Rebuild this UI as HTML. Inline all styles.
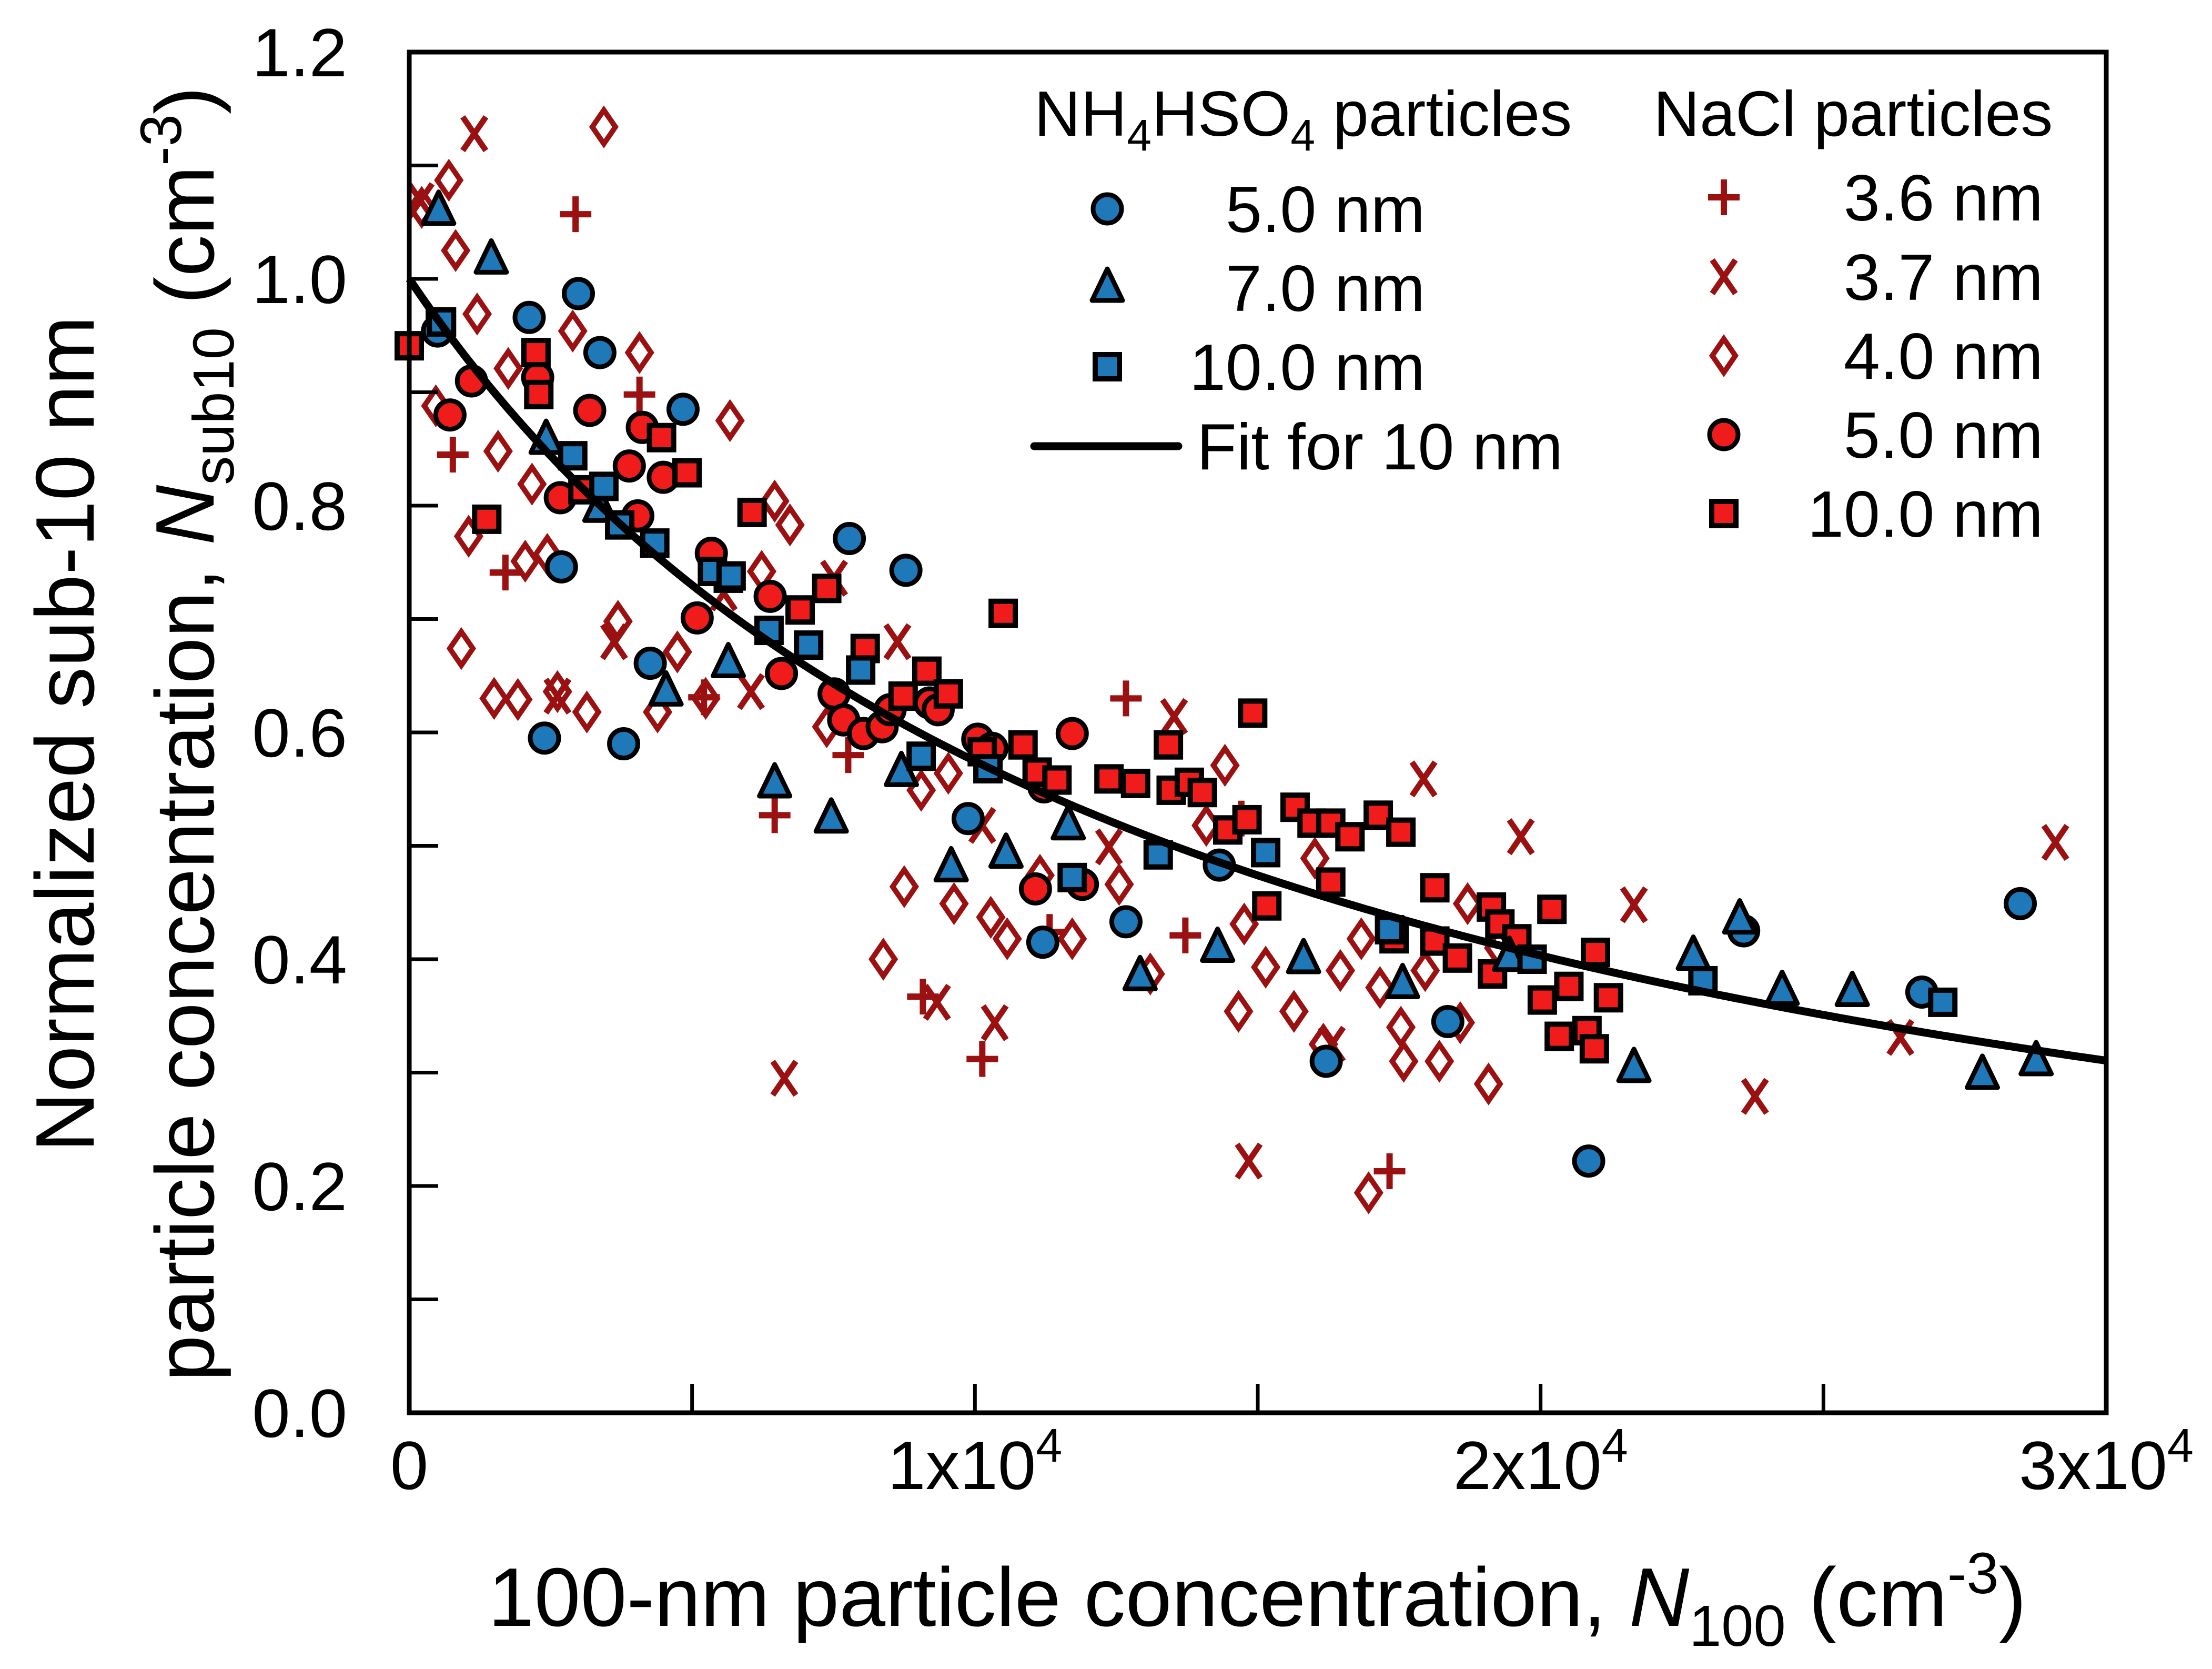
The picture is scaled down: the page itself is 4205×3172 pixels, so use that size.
<!DOCTYPE html>
<html><head><meta charset="utf-8"><style>
html,body{margin:0;padding:0;background:#fff;}
svg{display:block;font-family:"Liberation Sans",Arial,sans-serif;}
</style></head><body>
<svg id="chart" width="4205" height="3172" viewBox="0 0 4205 3172" xmlns="http://www.w3.org/2000/svg">
<rect width="4205" height="3172" fill="#fff"/>
<g id="marks"></g>
<g id="axes"></g>
<text x="2390" y="3090" font-size="158" text-anchor="middle">100-nm particle concentration, <tspan font-style="italic">N</tspan><tspan font-size="110" dy="38">100</tspan><tspan dy="-38"> (cm</tspan><tspan font-size="110" dy="-62">-3</tspan><tspan dy="62">)</tspan></text>
<g transform="translate(178,1395) rotate(-90)">
<text x="0" y="0" font-size="158" text-anchor="middle">Normalized sub-10 nm</text>
<text x="0" y="228" font-size="158" text-anchor="middle">particle concentration, <tspan font-style="italic">N</tspan><tspan font-size="110" dy="38">sub10</tspan><tspan dy="-38"> (cm</tspan><tspan font-size="110" dy="-62">-3</tspan><tspan dy="62">)</tspan></text>
</g>
<g id="legend"></g>
</svg>
<script>
const NS="http://www.w3.org/2000/svg";
const blueCircleX=[500,2120,2990,3370,4840,2690,2390,3790,4260,7780,8780,9880,11200,12670,14320,16210,18360,20850,23590,26740,28480];
const blueCircleY=[0.954,0.966,0.987,0.935,0.885,0.746,0.595,0.590,0.661,0.771,0.743,0.524,0.415,0.433,0.483,0.310,0.345,0.222,0.425,0.371,0.449];
const blueTriX=[520,1450,2420,3370,4540,5640,6460,7460,8700,9580,10550,11650,12920,14290,15810,17560,19450,21650,22700,23520,24270,25510,27810,28760];
const blueTriY=[1.06,1.017,0.858,0.798,0.636,0.661,0.555,0.524,0.565,0.481,0.493,0.518,0.385,0.410,0.400,0.378,0.402,0.304,0.403,0.435,0.372,0.371,0.298,0.310];
const blueSqX=[570,2890,3440,3720,4340,5360,5690,6360,7060,7980,9050,10230,11720,13240,15140,17330,19850,22870,27110];
const blueSqY=[0.962,0.844,0.817,0.783,0.767,0.742,0.738,0.690,0.677,0.655,0.579,0.568,0.472,0.492,0.494,0.426,0.400,0.381,0.362];
const redCircleX=[1100,720,2270,3190,2670,3890,4120,4490,4040,5340,5090,6580,6380,7510,7680,8030,8360,8500,9200,9350,10050,10300,11070,11220,11720,11900];
const redCircleY=[0.910,0.880,0.913,0.884,0.807,0.835,0.869,0.825,0.791,0.758,0.701,0.652,0.720,0.634,0.611,0.599,0.605,0.620,0.626,0.620,0.594,0.586,0.462,0.552,0.599,0.466];
const redSqX=[0,550,1370,2240,2290,3070,4460,4910,5640,6060,6910,7380,8060,8730,9150,9530,10130,10500,10850,11100,11450,12370,12840,13420,13470,13790,14020,14470,14810,14910,15160,15660,15960,16290,16290,16630,17130,17530,17410,18130,18130,18530,19130,19280,19580,20030,20200,20330,20500,20820,20970,21200,20950,19150];
const redSqY=[0.941,0.962,0.788,0.935,0.898,0.814,0.860,0.829,0.736,0.794,0.708,0.727,0.674,0.632,0.654,0.634,0.583,0.705,0.589,0.565,0.558,0.559,0.555,0.589,0.549,0.556,0.547,0.514,0.523,0.617,0.447,0.534,0.520,0.520,0.468,0.508,0.527,0.512,0.418,0.463,0.416,0.401,0.446,0.431,0.418,0.364,0.444,0.332,0.376,0.337,0.406,0.366,0.321,0.387];
const plusX=[2940,4070,770,1700,5210,6460,7760,9080,10130,11320,12670,13720,14710,17330];
const plusY=[1.057,0.898,0.845,0.741,0.631,0.527,0.580,0.367,0.312,0.424,0.630,0.421,0.524,0.213];
const crossX=[200,1150,2620,3620,5560,6040,6630,7510,8630,9330,10130,10350,12370,13520,14840,16310,17930,19650,21650,23790,26360,29100];
const crossY=[1.069,1.128,0.632,0.680,0.723,0.636,0.295,0.736,0.680,0.362,0.518,0.344,0.499,0.614,0.222,0.325,0.559,0.508,0.448,0.279,0.331,0.503];
const diaX=[220,700,820,1200,470,1050,920,1500,1920,1750,1570,2170,2050,2440,2620,2890,3140,3440,3690,4070,4390,4740,5240,5670,6230,6460,6730,7380,8380,8750,9050,9530,9630,10280,10570,11150,11720,12550,13100,14090,14420,14660,14760,15140,15640,16010,16160,16460,16830,16960,17160,17530,17580,17960,18210,18580,18710,19080,19260];
const diaY=[1.063,1.087,1.025,0.969,0.888,0.773,0.674,0.630,0.629,0.921,0.848,0.819,0.751,0.757,0.636,0.954,0.618,1.134,0.698,0.935,0.618,0.671,0.630,0.875,0.742,0.804,0.783,0.605,0.400,0.464,0.549,0.564,0.449,0.437,0.418,0.474,0.418,0.466,0.387,0.518,0.571,0.354,0.431,0.393,0.354,0.489,0.325,0.390,0.418,0.194,0.375,0.340,0.310,0.390,0.310,0.344,0.449,0.290,0.410];
const fitParams=[7.4e-5];
const xTicks=[0,10000,20000,30000];
const yTicks=[0,0.2,0.4,0.6,0.8,1.0,1.2];

const L=778,R=4004,T=99,B=2685;
const sx=v=>L+(v/30000)*(R-L);
const sy=v=>B-(v/1.2)*(B-T);
const BLUE="#1f78b8",RED="#f01c1c",DRED="#9b1010";
const marks=document.getElementById('marks');
function el(tag,attrs,parent){const e=document.createElementNS(NS,tag);for(const k in attrs)e.setAttribute(k,attrs[k]);parent.appendChild(e);return e;}
function marker(type,cx,cy,parent){
  let e;
  if(type==='bcircle'||type==='rcircle'){e=el('circle',{cx:cx,cy:cy,r:27,fill:type==='bcircle'?BLUE:RED,stroke:'#000','stroke-width':9},parent);}
  else if(type==='tri'){e=el('polygon',{points:`${cx},${cy-36} ${cx-29},${cy+24} ${cx+29},${cy+24}`,fill:BLUE,stroke:'#000','stroke-width':9,'stroke-linejoin':'round'},parent);}
  else if(type==='bsq'||type==='rsq'){e=el('rect',{x:cx-23,y:cy-23,width:46,height:46,fill:type==='bsq'?BLUE:RED,stroke:'#000','stroke-width':10},parent);}
  else if(type==='plus'){e=el('path',{d:`M${cx-30},${cy}H${cx+30}M${cx},${cy-34}V${cy+34}`,stroke:DRED,'stroke-width':12,fill:'none'},parent);}
  else if(type==='cross'){e=el('path',{d:`M${cx-22},${cy-32}L${cx+22},${cy+32}M${cx+22},${cy-32}L${cx-22},${cy+32}`,stroke:DRED,'stroke-width':11,fill:'none'},parent);}
  else if(type==='dia'){e=el('polygon',{points:`${cx},${cy-32} ${cx+22},${cy} ${cx},${cy+32} ${cx-22},${cy}`,fill:'#fff',stroke:DRED,'stroke-width':10},parent);}
  return e;
}
function series(name,type,xs,ys){
  const g=el('g',{},marks);
  
  
  xs.forEach((x,i)=>{const m=marker(type,sx(x),sy(ys[i]),g);
    
    });
}
series('nacl-4.0nm-series','dia',diaX,diaY);
series('nacl-3.7nm-series','cross',crossX,crossY);
series('nacl-3.6nm-series','plus',plusX,plusY);
series('nacl-5.0nm-series','rcircle',redCircleX,redCircleY);
series('nacl-10nm-series','rsq',redSqX,redSqY);
series('nh4hso4-5.0nm-series','bcircle',blueCircleX,blueCircleY);
series('nh4hso4-7.0nm-series','tri',blueTriX,blueTriY);
series('nh4hso4-10nm-series','bsq',blueSqX,blueSqY);
let d='';
for(let i=0;i<=300;i++){const x=i*100;const y=1/(1+fitParams[0]*x);d+=(i?'L':'M')+sx(x).toFixed(1)+','+sy(y).toFixed(1);}
const fit=el('path',{d:d,fill:'none',stroke:'#000','stroke-width':15},marks);


const ax=document.getElementById('axes');
const frame=el('rect',{x:L,y:T,width:R-L,height:B-T,fill:'none',stroke:'#000','stroke-width':9},ax);


for(let v=0;v<=1.2001;v+=0.1){const t=el('line',{x1:L,x2:L+55,y1:sy(v),y2:sy(v),stroke:'#000','stroke-width':7},ax);
  
  }
for(let v=0;v<=30000;v+=5000){const t=el('line',{x1:sx(v),x2:sx(v),y1:B,y2:B-55,stroke:'#000','stroke-width':7},ax);
  
  }
yTicks.forEach(v=>{const t=el('text',{x:660,y:sy(v)+46,'font-size':130,'text-anchor':'end'},ax);t.textContent=v.toFixed(1);
  
  });
xTicks.forEach(v=>{const t=el('text',{x:sx(v),y:2830,'font-size':130,'text-anchor':'middle'},ax);
  if(v===0)t.textContent='0';else{t.innerHTML=(v/10000)+'x10<tspan font-size="90" dy="-52">4</tspan>';}
  
  });
const lg=document.getElementById('legend');
const h1=el('text',{x:1966,y:258,'font-size':122},lg);h1.innerHTML='NH<tspan font-size="84" dy="28">4</tspan><tspan dy="-28">HSO</tspan><tspan font-size="84" dy="28">4</tspan><tspan dy="-28"> particles</tspan>';


const h2=el('text',{x:3143,y:258,'font-size':122},lg);h2.textContent='NaCl particles';


const leftEntries=[['bcircle','5.0 nm',397],['tri','7.0 nm',547],['bsq','10.0 nm',697]];
leftEntries.forEach(e=>{const m=marker(e[0],2105,e[2],lg);
  const t=el('text',{x:2709,y:e[2]+44,'font-size':124,'text-anchor':'end'},lg);t.textContent=e[1];
  
  });
const ll=el('line',{x1:1966,x2:2240,y1:848,y2:848,stroke:'#000','stroke-width':15,'stroke-linecap':'round'},lg);


const lt=el('text',{x:2275,y:892,'font-size':124},lg);lt.textContent='Fit for 10 nm';


const rightEntries=[['plus','3.6 nm',375],['cross','3.7 nm',526],['dia','4.0 nm',676],['rcircle','5.0 nm',826],['rsq','10.0 nm',976]];
rightEntries.forEach(e=>{const m=marker(e[0],3277,e[2],lg);
  const t=el('text',{x:3884,y:e[2]+44,'font-size':124,'text-anchor':'end'},lg);t.textContent=e[1];
  
  });
</script>
</body></html>
